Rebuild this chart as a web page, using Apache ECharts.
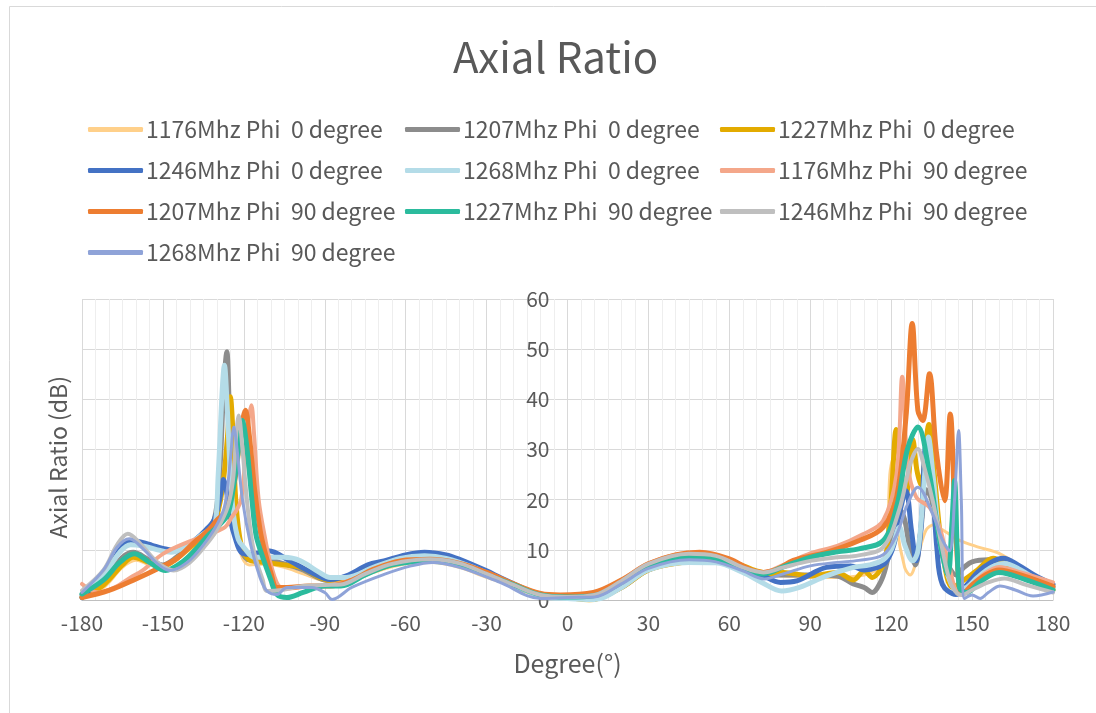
<!DOCTYPE html>
<html>
<head>
<meta charset="utf-8">
<script src="https://cdn.jsdelivr.net/npm/echarts@6/dist/echarts.min.js"></script>
<style>html,body{margin:0;padding:0;background:#fff}#c{width:1096px;height:713px}</style>
</head>
<body>
<div id="c"></div>
<script>
const seriesNames = [
  '1176Mhz Phi  0 degree','1207Mhz Phi  0 degree','1227Mhz Phi  0 degree',
  '1246Mhz Phi  0 degree','1268Mhz Phi  0 degree','1176Mhz Phi  90 degree',
  '1207Mhz Phi  90 degree','1227Mhz Phi  90 degree','1246Mhz Phi  90 degree',
  '1268Mhz Phi  90 degree'
];
const xTicks = [-180,-150,-120,-90,-60,-30,0,30,60,90,120,150,180];
const yTicks = [0,10,20,30,40,50,60];

const f1176p0 = [[-180,0.5],[-172,2.5],[-165,6.5],[-160,7.9],[-155,7],[-150,6.5],[-145,8],[-140,10],[-135,11.5],[-131,13],[-128,16],[-126,22],[-124.5,25],[-123,16],[-121,9],[-118,7],[-112,7.2],[-105,6.5],[-98,5.2],[-90,3.8],[-82,3.5],[-72,5.5],[-60,7.2],[-50,7.5],[-40,6.5],[-30,4.5],[-20,2.8],[-10,1],[0,0.5],[10,0.3],[20,2.3],[30,5.8],[45,7.5],[55,7.8],[65,6.2],[72,5],[80,4.8],[90,4.5],[100,4.5],[110,5],[115,6.2],[118,9],[119.5,25],[120.5,28],[122,15],[125,6.5],[127,5],[130,9],[133,14],[136,15],[139,14],[145,12],[152,10.6],[160,9.3],[170,6],[180,3]];
const f1207p0 = [[-180,1],[-172,4],[-165,8.5],[-161,9.5],[-155,8],[-150,7],[-145,8.5],[-140,11],[-135,13],[-131,16],[-129,25],[-127.5,42],[-126.3,49.5],[-125.5,40],[-124.5,25],[-123,15],[-121,10],[-118,8],[-112,8],[-105,7.2],[-98,6],[-90,4],[-83,3.8],[-72,6],[-60,7.8],[-50,8],[-40,7],[-30,5],[-20,3],[-10,1],[0,0.6],[8,0.2],[20,2.5],[30,6],[45,8],[55,7.8],[65,6.2],[72,5],[80,5],[90,5],[100,4.8],[106,3.2],[110,2.5],[113,1.5],[116,3.5],[118,6.5],[121,14],[123.3,17.9],[125,16],[127,10],[129,7],[131,14],[133,22],[135,20],[138,10],[141,7],[144,5],[147,6.5],[150,7.6],[156,8],[162,7],[170,5],[180,2.5]];
const f1227p0 = [[-180,0.5],[-172,3],[-165,7],[-161,8.5],[-155,7.5],[-150,6.8],[-145,8.2],[-140,10.5],[-135,12.5],[-131,15],[-128,22],[-126,33],[-125,40.5],[-124,33],[-123,20],[-121,11],[-118,8],[-112,7.5],[-105,7],[-99,6.5],[-92,4.5],[-87,3.8],[-80,4.2],[-70,6.2],[-60,7.6],[-50,7.8],[-40,7],[-30,5],[-20,2.8],[-10,1],[0,0.5],[8,0],[20,2.5],[30,6],[40,7.3],[50,7.7],[60,7.6],[70,5.8],[75,5.3],[80,5.5],[90,4.8],[100,5.5],[106,4],[110,5.8],[113,4.5],[116,6],[118,8.5],[120,20],[121.9,34],[123.5,26],[125.5,21],[128,32],[129.5,26],[131,23],[134,35],[136,25],[139,9.8],[142.8,2.5],[147,4],[152,6],[157.8,8.3],[163,7],[170,4.5],[180,2]];
const f1246p0 = [[-180,0.5],[-172,5],[-166,10],[-162,11.9],[-158,11.5],[-154,10.9],[-150,10.3],[-146,9.9],[-142,10.5],[-138,12],[-134,14],[-131,16],[-129,20],[-127.5,24],[-126.5,22],[-125,16],[-123,12],[-121,9.5],[-118,9.1],[-111,9.8],[-103,7.8],[-95,5.5],[-88,4.1],[-82,4.8],[-74,7],[-68,7.8],[-60,9],[-53,9.5],[-45,9],[-40,8.1],[-30,5.8],[-25,4.5],[-15,2],[-10,0.8],[0,0.5],[10,0.4],[20,2.8],[30,6.5],[45,8.8],[55,8.5],[65,6.5],[72,5],[79,3.5],[85,3.8],[96,6.5],[105,6.8],[110,6],[115,6.5],[118,7.5],[121,11],[123,17],[125.5,21.8],[127.5,14],[129.3,7.8],[131,14],[133,31],[135,25],[137,10],[139,3.1],[144,1.1],[148,3],[152,5.5],[157,7.5],[161.6,8.3],[167,7],[173,5],[180,3.1]];
const f1268p0 = [[-180,1],[-172,5],[-166,9.5],[-162,11],[-157,10.7],[-152,10],[-147,9.5],[-142,10.5],[-138,12],[-134,13.5],[-131,14],[-129.5,25],[-128,42],[-127.2,46.8],[-126.3,40],[-125,25],[-123.7,16.5],[-122,12],[-120,10.5],[-116,8.5],[-110,8.5],[-105,8.5],[-99,7.8],[-92,5.5],[-88,4.5],[-82,4.5],[-72,6.5],[-62,8.3],[-53,8.8],[-45,8.3],[-35,6.5],[-25,4],[-15,1.8],[-8,0.5],[0,0.3],[10,0.1],[20,2.5],[30,6],[45,7.5],[55,7.4],[65,5.5],[72,3.5],[79.4,1.8],[86,2.5],[96,4.8],[106,6.5],[112,7],[117,8],[120,10],[123.1,14.5],[125,11],[128,7.8],[130,10],[132,22],[133.8,32.5],[135.5,25],[138,12],[141,5],[144.3,2],[148,2.5],[152,4.5],[157,6.5],[162,7.3],[168,6],[174,4],[180,2.5]];
const f1176p90 = [[-180,3.2],[-174,1.5],[-168,2.5],[-162,4.5],[-157.5,5.9],[-150,9.2],[-141,11.5],[-132.5,13.2],[-127,14.5],[-124.5,16.5],[-122.7,17.9],[-121,20],[-119.5,28],[-118.2,36],[-117.2,38.8],[-116.2,33],[-114.5,20],[-112,12],[-110,7.1],[-106.4,2.5],[-103,2.3],[-95,2.8],[-88,3],[-80,4],[-72,6],[-62,7.8],[-52,8],[-40,7.3],[-30,5.5],[-20,3.2],[-10,1.3],[0,0.8],[10,1.5],[20,4],[30,7.3],[45,9.3],[55,8.8],[65,6.5],[72,5.5],[80,7],[90,9.3],[100,10.8],[109.5,13.1],[117,15.8],[122,25.1],[124.1,44.5],[126.2,26.5],[129.3,20.5],[134.2,18.5],[138,14.5],[141.6,6.5],[145.3,1.1],[149,2.5],[154,5],[160,6.6],[168,5.5],[180,3.5]];
const f1207p90 = [[-180,0.5],[-170,1.9],[-160,4.2],[-151,6.5],[-145,8.2],[-139,11.2],[-133,14],[-130,15.9],[-127,17.5],[-125,20],[-123,25],[-121.3,33],[-119.4,37.8],[-118,33],[-116,22],[-114,14],[-112.6,10.5],[-110,5.5],[-107.7,2.5],[-104,2.5],[-96,2.8],[-88,2.8],[-80.7,3.8],[-72,6.1],[-62,7.8],[-51,8.1],[-40,7.3],[-30,5.5],[-20,3.2],[-10,1.3],[-2.7,1],[9.6,1.5],[20,4],[30,7.2],[40,9],[49,9.5],[60,8.2],[68,6],[72.6,5.5],[78,6.2],[83.7,7.9],[96,9.5],[108.4,11.9],[117,14.5],[122,20.5],[125.5,36.5],[127.8,55.1],[129.9,37.8],[131.7,35.8],[134.2,45.1],[136.7,29.8],[139.8,19.8],[141.9,37.1],[144,13.1],[146.5,1.1],[150,3],[155,5],[160,6],[168,5],[180,2.7]];
const f1227p90 = [[-180,1.2],[-172,4],[-166,7.5],[-160.6,9.2],[-155,7.5],[-149,5.9],[-143,7.5],[-138,10],[-133,13],[-129,15],[-126,17],[-124,22],[-122,30],[-120.6,35.8],[-119,31],[-117,20],[-115.5,13],[-113.8,9.8],[-110,4],[-107.7,1.1],[-104,0.5],[-98,1.5],[-90,2.8],[-84,2.8],[-75,5],[-65,7],[-51,7.7],[-40,7],[-30,5],[-20,3],[-10,1],[0,0.6],[10,0.9],[20,3.5],[30,6.8],[45,8.7],[55,8.3],[65,6.2],[72.6,5.2],[80,6.6],[90,8.5],[100,9.6],[108,10.2],[117,11.8],[122,18.5],[126,30],[129.9,34.5],[134.2,25.1],[138,11.8],[141,5.1],[142.5,15],[143.5,23.8],[144.5,10],[145.3,2.5],[148,1.5],[153,3.6],[160,5.5],[170,4],[180,2]];
const f1246p90 = [[-180,1.9],[-172,6],[-167,11],[-163,13.2],[-158,11],[-152,7.5],[-146,5.9],[-140,7.5],[-134,11],[-130,14],[-126,18.5],[-124,24],[-122.8,33],[-121.9,36.8],[-120.5,30],[-118.5,18],[-116.3,9.8],[-113,4],[-111.4,1.8],[-106,2],[-98,2.8],[-90,3],[-84,3.1],[-75,5.2],[-65,7.2],[-51,8.1],[-40,7.3],[-30,5.2],[-20,3],[-10,1],[0,0.6],[10,1],[20,3.8],[30,7.2],[45,9.2],[55,8.8],[65,6.5],[72.6,5.5],[80,6.5],[90,7.8],[100,8.5],[108,8.9],[117,10.5],[123,18],[127,27],[129.9,30.1],[132,27],[135.4,19.8],[140.4,6.5],[142.8,2.5],[146,1],[150,2],[156,3.5],[162,4.3],[170,3],[180,1.5]];
const f1268p90 = [[-180,1.5],[-172,6],[-167,10.5],[-162.5,12.2],[-157,10],[-152,7.2],[-147.5,5.9],[-141,7.5],[-135,11],[-130,15],[-127,19],[-125,28],[-123.7,34.5],[-122.5,30],[-120.5,20],[-117.5,11.1],[-114,4.5],[-111.4,1.8],[-107.7,1.1],[-104,2.5],[-95,2.5],[-90,1.5],[-87.3,0.1],[-80,2.5],[-68,5.1],[-58,6.8],[-50,7.5],[-40,6.5],[-25,3.5],[-10,0.3],[0,0.5],[10,0.6],[20,3.2],[30,6.3],[45,8],[55,7.6],[65,5.8],[73,4.2],[80,5.2],[90,6.8],[100,7.5],[108,7.9],[117,9],[122,13],[126,19],[129.9,22.5],[135.4,17.1],[139,12],[141.6,9.8],[143.5,20],[145,33.8],[146,20],[147.2,0.3],[150,1],[153,0.3],[156,1.5],[160.4,2.8],[166,2],[172.6,0.8],[180,1.6]];

const seriesData = [f1176p0,f1207p0,f1227p0,f1246p0,f1268p0,f1176p90,f1207p90,f1227p90,f1246p90,f1268p90];
const colors = ['#ffd08a','#8c8c8c','#e3ab00','#4472c4','#b4dce8','#f4a78a','#ed7d31','#2bbb9d','#bfbfbf','#8fa3d8'];
const widths = [3,5,5,5,5,4,5,5,4,3];

const chart = echarts.init(document.getElementById('c'), null, {renderer:'canvas'});
const txt = '#595959';
const font = '"Noto Sans CJK SC","Noto Sans",sans-serif';

function legendCol(idx, left){
  return {
    show:true, orient:'vertical', left:left, top:118, padding:0,
    itemWidth:55, itemHeight:5, itemGap:18,
    icon:'roundRect',
    data: idx.map(i=>({name:seriesNames[i], itemStyle:{color:colors[i]}})),
    textStyle:{color:txt, fontSize:23, fontFamily:font, padding:[0,0,0,-2]},
    selectedMode:false
  };
}

const option = {
  animation:false,
  backgroundColor:'#fff',
  color: colors,
  title:{text:'Axial Ratio', left:448, top:31, textStyle:{color:txt, fontSize:42, fontWeight:'normal', fontFamily:font}},
  legend:[legendCol([0,3,6,9],88), legendCol([1,4,7],405), legendCol([2,5,8],720)],
  grid:{left:82, right:43, top:299, bottom:113},
  xAxis:{
    type:'value', min:-180, max:180, interval:30,
    name:'Degree(°)', nameLocation:'middle', nameGap:51,
    nameTextStyle:{color:txt, fontSize:25, fontFamily:font},
    axisLine:{show:true, lineStyle:{color:'#bfbfbf', width:1}},
    axisTick:{show:false},
    axisLabel:{color:txt, fontSize:21, fontFamily:font, margin:13,
      formatter:v=>xTicks.includes(v)?String(v):''},
    splitLine:{show:true, lineStyle:{color:'#d9d9d9', width:1}},
    minorTick:{show:false, splitNumber:6},
    minorSplitLine:{show:true, lineStyle:{color:'#eeeeee', width:1}}
  },
  yAxis:{
    type:'value', min:0, max:60, interval:10, offset:-485.5,
    axisLine:{show:false},
    axisTick:{show:false},
    axisLabel:{color:txt, fontSize:21, fontFamily:font, margin:18,
      formatter:v=>yTicks.includes(v)?String(v):''},
    splitLine:{show:true, lineStyle:{color:'#d9d9d9', width:1}}
  },
  graphic:[
    {type:'rect', left:7, top:4, shape:{width:1090, height:720}, style:{fill:'none', stroke:'#d9d9d9', lineWidth:1}, silent:true},
    {type:'text', left:47, top:376, rotation:Math.PI/2, style:{text:'Axial Ratio (dB)', fill:txt, fontSize:23, fontFamily:font}}
  ],
  series: seriesData.map((d,i)=>({
    name:seriesNames[i], type:'line', data:d, smooth:0.35, showSymbol:false, symbol:'none',
    lineStyle:{color:colors[i], width:widths[i], cap:'round', join:'round'},
    itemStyle:{color:colors[i]}
  }))
};
chart.setOption(option);
</script>
</body>
</html>
